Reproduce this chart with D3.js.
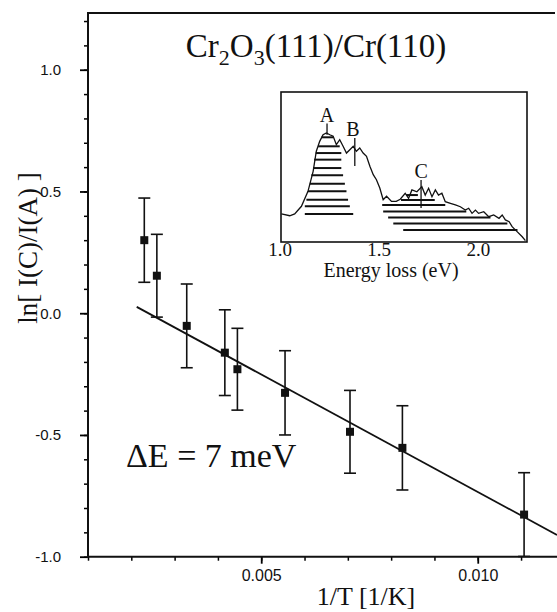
<!DOCTYPE html>
<html>
<head>
<meta charset="utf-8">
<script src="https://cdn.jsdelivr.net/npm/d3@7/dist/d3.min.js"></script>
<style>
  body { margin: 0; background: #fff; }
  svg { display: block; }
  .serif { font-family: "Liberation Serif", "DejaVu Serif", serif; fill: #111; }
  .tick text { font-family: "Liberation Sans", Arial, sans-serif; font-size: 15px; fill: #111; }
</style>
</head>
<body>
<div id="chart"></div>
<script>
// Messpunkte: 1/T [1/K] und ln[I(C)/I(A)]
var invT = [0.0023, 0.00259, 0.00328, 0.00416, 0.00445, 0.00555, 0.00705, 0.00826, 0.01107];
var lnRatio = [0.30, 0.154, -0.052, -0.162, -0.23, -0.327, -0.487, -0.553, -0.827];
var lnError = [0.173, 0.17, 0.172, 0.176, 0.168, 0.173, 0.17, 0.173, 0.172];

// Ausgleichsgerade y = a + b*x
var fitIntercept = 0.231, fitSlope = -96.5;
var fitRange = [0.002125, 0.01183];

var yMajor = [-1.0, -0.5, 0.0, 0.5, 1.0];
var xMajor = [0.005, 0.010];

// Inset: EELS-Spektrum (Energieverlust eV, Intensitaet willk. Einheiten)
var specE = [1.002, 1.044, 1.069, 1.103, 1.136, 1.162, 1.178, 1.195, 1.212, 1.229, 1.246, 1.263, 1.279, 1.296,
  1.313, 1.330, 1.347, 1.364, 1.380, 1.397, 1.414, 1.431, 1.448, 1.465, 1.481, 1.498, 1.515, 1.532, 1.557, 1.581,
  1.601, 1.626, 1.643, 1.660, 1.685, 1.710, 1.727, 1.744, 1.761, 1.778, 1.794, 1.811, 1.828, 1.854, 1.879, 1.904,
  1.929, 1.946, 1.963, 1.980, 1.996, 2.022, 2.047, 2.072, 2.099, 2.115, 2.131, 2.150, 2.165, 2.190, 2.216, 2.232];
var specI = [18.7, 17.5, 18.7, 23.8, 33.8, 47.1, 60.5, 67.1, 71.5, 72.7, 71.5, 70.5, 64.9, 68.2,
  63.8, 59.3, 61.5, 63.8, 60.5, 62.7, 59.3, 57.1, 50.5, 44.9, 41.5, 36.0, 28.2, 30.5, 27.1, 27.1,
  28.5, 32.5, 29.1, 34.7, 33.5, 36.9, 31.3, 35.8, 30.2, 34.7, 31.3, 32.5, 26.9, 25.8, 24.7, 23.5,
  21.3, 22.5, 19.1, 21.3, 19.1, 20.2, 16.9, 18.0, 15.8, 18.0, 14.7, 13.5, 10.2, 6.9, 3.5, 0.9];

// Schraffur der Peaks: [Intensitaet, E von, E bis]
var hatchA = [[69.8, 1.204, 1.263], [63.8, 1.187, 1.296], [59.3, 1.175, 1.304], [54.9, 1.167, 1.304],
  [49.3, 1.162, 1.304], [44.5, 1.153, 1.313], [38.9, 1.145, 1.322], [33.8, 1.136, 1.330],
  [28.2, 1.128, 1.338], [23.8, 1.120, 1.347], [18.7, 1.120, 1.364]];
var hatchC = [[31.3, 1.631, 1.690], [28.0, 1.605, 1.775], [24.7, 1.510, 1.828], [20.3, 1.515, 1.934],
  [16.3, 1.540, 2.056], [12.3, 1.566, 2.141], [8.0, 1.616, 2.192]];

// Peak-Markierungen
var peakNames = ["A", "B", "C"];
var peakE = [1.232, 1.372, 1.706];
var peakTickTop = [79, 69.3, 41.3];
var peakTickBottom = [71.5, 50.7, 22.7];
var insetTicks = [1.0, 1.5, 2.0];

var W = 557, H = 612;
var svg = d3.select("#chart").append("svg")
    .attr("width", W).attr("height", H);

var x = d3.scaleLinear().domain([0.001, 0.01183]).range([88, 557]);
var y = d3.scaleLinear().domain([-1.0, 1.233]).range([556.7, 13]);

// Y-Achse
svg.append("g")
    .attr("transform", "translate(88,0)")
    .call(d3.axisLeft(y).tickValues(d3.range(-10, 13).map(d => d / 10)).tickSize(4).tickFormat(""))
    .call(g => g.select(".domain").remove())
    .call(g => g.selectAll("line").attr("stroke-width", 1.5));

svg.append("g")
    .attr("transform", "translate(88,0)")
    .call(d3.axisLeft(y).tickValues(yMajor).tickSize(8).tickPadding(19).tickFormat(d => d.toFixed(1)))
    .call(g => g.select(".domain").remove())
    .call(g => g.selectAll("line").attr("stroke-width", 1.8));

// X-Achse
svg.append("g")
    .attr("transform", "translate(0," + y(-1) + ")")
    .call(d3.axisBottom(x).tickValues(d3.range(1, 12).map(d => d / 1000)).tickSize(4).tickFormat(""))
    .call(g => g.select(".domain").remove())
    .call(g => g.selectAll("line").attr("stroke-width", 1.5));

svg.append("g")
    .attr("transform", "translate(0," + y(-1) + ")")
    .call(d3.axisBottom(x).tickValues(xMajor).tickSize(7).tickPadding(6).tickFormat(d => d.toFixed(3)))
    .call(g => g.select(".domain").remove())
    .call(g => g.selectAll("line").attr("stroke-width", 1.8))
    .call(g => g.selectAll("text").style("font-size", "16px"));

// Rahmen: links, unten, oben
svg.append("path")
    .attr("d", "M" + 555 + "," + y.range()[1] + "H88V" + y(-1) + "H" + 557)
    .attr("fill", "none").attr("stroke", "#111").attr("stroke-width", 2);

// Ausgleichsgerade
svg.append("line")
    .attr("x1", x(fitRange[0])).attr("y1", y(fitIntercept + fitSlope * fitRange[0]))
    .attr("x2", x(fitRange[1])).attr("y2", y(fitIntercept + fitSlope * fitRange[1]))
    .attr("stroke", "#111").attr("stroke-width", 1.8);

// Fehlerbalken
var pts = invT.map((v, i) => ({x: v, y: lnRatio[i], e: lnError[i]}));
var eb = svg.append("g").attr("stroke", "#111").attr("stroke-width", 1.6);
eb.selectAll(".bar").data(pts).enter().append("line")
    .attr("x1", d => x(d.x)).attr("x2", d => x(d.x))
    .attr("y1", d => y(d.y + d.e)).attr("y2", d => y(d.y - d.e));
eb.selectAll(".capT").data(pts).enter().append("line")
    .attr("x1", d => x(d.x) - 6).attr("x2", d => x(d.x) + 6)
    .attr("y1", d => y(d.y + d.e)).attr("y2", d => y(d.y + d.e));
eb.selectAll(".capB").data(pts).enter().append("line")
    .attr("x1", d => x(d.x) - 6).attr("x2", d => x(d.x) + 6)
    .attr("y1", d => y(d.y - d.e)).attr("y2", d => y(d.y - d.e));

svg.append("g").selectAll("rect").data(pts).enter().append("rect")
    .attr("x", d => x(d.x) - 4).attr("y", d => y(d.y) - 4)
    .attr("width", 8).attr("height", 8).attr("fill", "#111");

// Titel
var title = svg.append("text").attr("class", "serif")
    .attr("x", 316).attr("y", 57).attr("text-anchor", "middle").style("font-size", "33px");
title.append("tspan").text("Cr");
title.append("tspan").text("2").attr("dy", 8).style("font-size", "22px");
title.append("tspan").text("O").attr("dy", -8);
title.append("tspan").text("3").attr("dy", 8).style("font-size", "22px");
title.append("tspan").text("(111)/Cr(110)").attr("dy", -8);

svg.append("text").attr("class", "serif")
    .attr("x", 126).attr("y", 467).style("font-size", "34px")
    .text("\u0394E = 7 meV");

// Achsentitel
svg.append("text").attr("class", "serif")
    .attr("x", 366).attr("y", 605).attr("text-anchor", "middle").style("font-size", "26px")
    .text("1/T [1/K]");
svg.append("text").attr("class", "serif")
    .attr("transform", "translate(37,248) rotate(-90)")
    .attr("text-anchor", "middle").style("font-size", "27px")
    .text("ln[ I(C)/I(A) ]");

// Inset
var ix = d3.scaleLinear().domain([1.0, 2.24]).range([281, 527]);
var iy = d3.scaleLinear().domain([0, 100]).range([242, 92]);
var inset = svg.append("g");

inset.append("rect")
    .attr("x", ix(1.0)).attr("y", iy(100))
    .attr("width", ix(2.24) - ix(1.0)).attr("height", iy(0) - iy(100))
    .attr("fill", "none").attr("stroke", "#111").attr("stroke-width", 1.6);

var hatch = hatchA.concat(hatchC);
inset.append("g").selectAll("line").data(hatch).enter().append("line")
    .attr("x1", d => ix(d[1])).attr("x2", d => ix(d[2]))
    .attr("y1", d => iy(d[0])).attr("y2", d => iy(d[0]))
    .attr("stroke", "#111").attr("stroke-width", 2);

var spec = specE.map((e, i) => [e, specI[i]]);
inset.append("path")
    .datum(spec)
    .attr("d", d3.line().x(d => ix(d[0])).y(d => iy(d[1])))
    .attr("fill", "none").attr("stroke", "#111").attr("stroke-width", 1.3);

inset.append("g").selectAll("line").data(peakE).enter().append("line")
    .attr("x1", d => ix(d)).attr("x2", d => ix(d))
    .attr("y1", (d, i) => iy(peakTickTop[i])).attr("y2", (d, i) => iy(peakTickBottom[i]))
    .attr("stroke", "#111").attr("stroke-width", 1.3);

inset.append("g").selectAll("text").data(peakNames).enter().append("text")
    .attr("class", "serif")
    .attr("x", (d, i) => ix(peakE[i]) - (i == 1 ? 2 : 0))
    .attr("y", (d, i) => iy(peakTickTop[i]) - 2)
    .attr("text-anchor", "middle").style("font-size", "20px")
    .text(d => d);

inset.append("g").selectAll("text").data(insetTicks).enter().append("text")
    .attr("class", "serif")
    .attr("x", d => ix(d) - 1).attr("y", 256)
    .attr("text-anchor", "middle").style("font-size", "19px")
    .text(d => d.toFixed(1));

inset.append("text").attr("class", "serif")
    .attr("x", 391).attr("y", 277).attr("text-anchor", "middle").style("font-size", "20px")
    .text("Energy loss (eV)");
</script>
</body>
</html>
